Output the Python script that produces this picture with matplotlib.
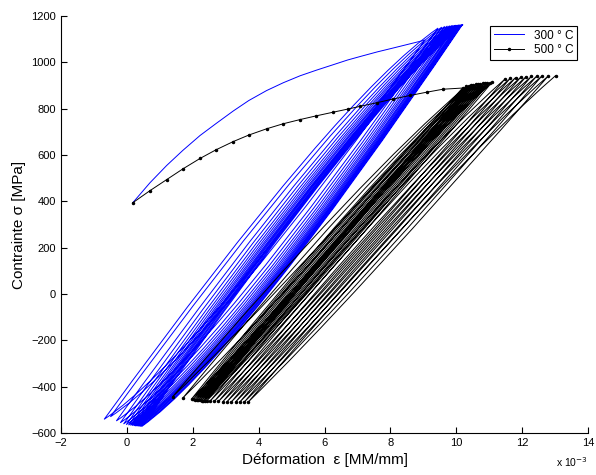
import matplotlib.pyplot as plt
import numpy as np
from matplotlib.path import Path
from matplotlib.patches import PathPatch

plt.rcParams['font.family'] = ['Liberation Sans', 'DejaVu Sans']

# strain in 1e-3, stress in MPa

# 300 °C : first loading
blue_first_x = [0.18, 0.70, 1.21, 1.70, 2.22, 2.70, 3.23, 3.70, 4.24, 4.75, 5.26, 5.75, 6.27, 6.70, 7.08, 7.60,
                8.09, 8.60, 9.05]
blue_first_y = [394, 480, 555, 620, 684, 735, 790, 835, 878, 912, 942, 966, 990, 1010, 1025, 1045,
                1062, 1080, 1096]
# 300 °C : cycles (unloading bend, valley, loading bend, peak)
blue_down_cx = [2.16, 2.35, 2.53, 2.65, 2.75, 2.83, 2.90, 2.96, 3.01, 3.06, 3.10, 3.14, 3.18, 3.22, 3.26, 3.30]
blue_down_cy = [-270, -265, -275, -278, -280, -280, -281, -281, -282, -282, -282, -283, -283, -283, -284, -284]
blue_valley_x = [-0.69, -0.50, -0.32, -0.20, -0.10, -0.02, 0.05, 0.11, 0.16, 0.21, 0.25, 0.29, 0.33, 0.37, 0.41, 0.45]
blue_valley_y = [-541, -530, -548, -556, -561, -564, -566, -567, -568, -569, -570, -570, -571, -571, -572, -572]
blue_up_cx = [6.41, 6.60, 6.78, 6.90, 7.00, 7.08, 7.15, 7.21, 7.26, 7.31, 7.35, 7.39, 7.43, 7.47, 7.51, 7.55]
blue_up_cy = [850, 852, 855, 857, 858, 859, 860, 860, 861, 861, 862, 862, 862, 863, 863, 863]
blue_peak_x = [9.45, 9.56, 9.65, 9.73, 9.80, 9.86, 9.91, 9.96, 10.00, 10.04, 10.08, 10.11, 10.14, 10.17, 10.19, 10.21]
blue_peak_y = [1148, 1152, 1155, 1157, 1158, 1159, 1160, 1160, 1161, 1161, 1162, 1162, 1162, 1163, 1163, 1163]

# 500 °C : first loading
black_first_x = [0.18, 0.70, 1.21, 1.70, 2.22, 2.70, 3.23, 3.70, 4.24, 4.75, 5.26, 5.75, 6.27, 6.70, 7.08, 7.60,
                 8.09, 8.60, 9.10, 9.60, 10.19]
black_first_y = [394, 446, 494, 540, 585, 622, 658, 686, 713, 735, 753, 769, 785, 798, 810, 826,
                 842, 857, 871, 884, 889]
# 500 °C : cycles
black_down_cx = [4.33, 4.59, 4.79, 4.85, 4.91, 4.96, 5.02, 5.07, 5.13, 5.19, 5.24, 5.30, 5.39, 5.60, 5.74,
                 5.88, 6.02, 6.16, 6.29, 6.43, 6.57, 6.72]
black_down_cy = [-43, -44, -47, -47, -48, -48, -49, -49, -49, -50, -49, -50, -50, -46, -46,
                 -45, -45, -45, -45, -44, -45, -44]
black_valley_x = [1.39, 1.71, 1.97, 2.02, 2.07, 2.12, 2.17, 2.22, 2.27, 2.32, 2.37, 2.42, 2.52, 2.65, 2.78,
                  2.91, 3.04, 3.17, 3.30, 3.43, 3.56, 3.68]
black_valley_y = [-443, -447, -452, -454, -456, -457, -458, -459, -460, -461, -461, -462, -463, -464, -464,
                  -465, -465, -466, -466, -466, -467, -467]
black_up_cx = [7.21, 7.35, 7.48, 7.54, 7.60, 7.67, 7.73, 7.80, 7.86, 7.93, 7.99, 8.06, 8.37, 8.52, 8.67,
               8.83, 8.98, 9.13, 9.28, 9.43, 9.61, 9.81]
black_up_cy = [521, 522, 523, 524, 525, 525, 526, 526, 526, 527, 528, 528, 539, 540, 543, 544, 545, 546,
               546, 547, 548, 548]
black_peak_x = [10.30, 10.38, 10.45, 10.52, 10.59, 10.66, 10.73, 10.80, 10.87, 10.94, 11.01, 11.08, 11.48,
                11.64, 11.80, 11.96, 12.12, 12.28, 12.44, 12.60, 12.80, 13.02]
black_peak_y = [896, 899, 902, 904, 906, 907, 908, 909, 910, 911, 912, 913, 928, 931, 934, 936, 938, 939,
                940, 941, 942, 943]


def cycles_path(x0, y0, dcx, dcy, vx, vy, ucx, ucy, px, py):
    verts = [(x0, y0)]
    codes = [Path.MOVETO]
    for i in range(len(vx)):
        verts += [(dcx[i], dcy[i]), (vx[i], vy[i]), (ucx[i], ucy[i]), (px[i], py[i])]
        codes += [Path.CURVE3] * 4
    return Path(verts, codes)


fig = plt.figure(figsize=(5.96, 4.75), dpi=100)
ax = fig.add_axes([61 / 596, 42 / 475, 527 / 596, 417 / 475])

# 300 °C
ax.plot(blue_first_x, blue_first_y, color='blue', lw=0.7, label='300 ° C')
blue_path = cycles_path(blue_first_x[-1], blue_first_y[-1], blue_down_cx, blue_down_cy, blue_valley_x,
                        blue_valley_y, blue_up_cx, blue_up_cy, blue_peak_x, blue_peak_y)
ax.add_patch(PathPatch(blue_path, facecolor='none', edgecolor='blue', lw=0.7))

# 500 °C
ax.plot(black_first_x, black_first_y, color='black', lw=0.7, marker='.', markersize=3, label='500 ° C')
black_path = cycles_path(black_first_x[-1], black_first_y[-1], black_down_cx, black_down_cy, black_valley_x,
                         black_valley_y, black_up_cx, black_up_cy, black_peak_x, black_peak_y)
ax.add_patch(PathPatch(black_path, facecolor='none', edgecolor='black', lw=0.7))
ax.plot(black_valley_x, black_valley_y, ls='none', marker='.', markersize=3, color='black')
ax.plot(black_peak_x, black_peak_y, ls='none', marker='.', markersize=3, color='black')

ax.set_xlim(-2, 14)
ax.set_ylim(-600, 1200)
ax.set_xticks(np.arange(-2, 15, 2))
ax.set_yticks(np.arange(-600, 1201, 200))
ax.tick_params(direction='in', length=4, labelsize=8)
ax.spines['top'].set_visible(False)
ax.spines['right'].set_visible(False)

ax.set_xlabel('Déformation  ε [MM/mm]', fontsize=11, labelpad=4)
ax.set_ylabel('Contrainte σ [MPa]', fontsize=11, labelpad=4)
ax.text(1.0, -0.07, r'x 10$^{-3}$', transform=ax.transAxes, ha='right', va='center', fontsize=7.5)

leg = ax.legend(loc='upper right', bbox_to_anchor=(0.99, 0.99), fontsize=8.5, fancybox=False,
                edgecolor='black', framealpha=1, handlelength=2.6, borderpad=0.3, labelspacing=0.2)
leg.get_frame().set_linewidth(0.8)

fig.savefig('out.png', dpi=100)
